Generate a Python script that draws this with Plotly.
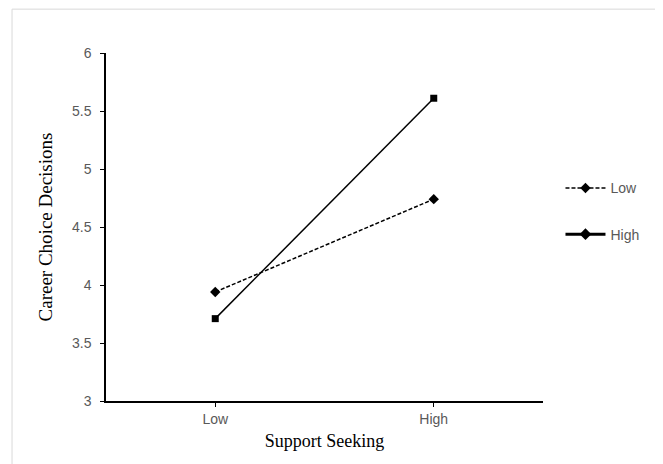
import plotly.graph_objects as go

categories = ["Low", "High"]
low_values = [3.94, 4.74]
high_values = [3.71, 5.61]
series_names = ["Low", "High"]
y_ticks = [3, 3.5, 4, 4.5, 5, 5.5, 6]

fig = go.Figure()
fig.add_trace(go.Scatter(x=categories, y=low_values, mode="lines+markers",
                         line=dict(color="black", width=1.5, dash="4px,2px"),
                         marker=dict(symbol="diamond", size=8, color="black"),
                         showlegend=False))
fig.add_trace(go.Scatter(x=categories, y=high_values, mode="lines+markers",
                         line=dict(color="black", width=1.5),
                         marker=dict(symbol="square", size=7, color="black"),
                         showlegend=False))
# legend-only entries (Excel-style diamond markers)
fig.add_trace(go.Scatter(x=[None], y=[None], mode="lines+markers", name=series_names[0],
                         legendgroup="a",
                         line=dict(color="black", width=1.5, dash="4px,2px"),
                         marker=dict(symbol="diamond", size=8, color="black")))
fig.add_trace(go.Scatter(x=[None], y=[None], mode="lines+markers", name=series_names[1],
                         legendgroup="b",
                         line=dict(color="black", width=3),
                         marker=dict(symbol="diamond", size=9, color="black")))

fig.update_layout(
    width=663, height=464,
    margin=dict(l=98, r=128, t=45, b=71),
    paper_bgcolor="white", plot_bgcolor="white",
    showlegend=True,
    legend=dict(x=1.04, y=0.657, xanchor="left", yanchor="top",
                font=dict(family="Liberation Sans, Arial", size=14, color="#595959"),
                tracegroupgap=25, itemwidth=40, bgcolor="rgba(0,0,0,0)"),
    xaxis=dict(type="category", range=[-0.5, 1.5], showline=True, linecolor="black",
               linewidth=1.5, ticks="outside", ticklen=4, tickcolor="black",
               showgrid=False, zeroline=False,
               tickfont=dict(family="Liberation Sans, Arial", size=14, color="#595959"),
               title=dict(text="Support Seeking", standoff=9,
                          font=dict(family="Liberation Serif, Times New Roman", size=18, color="black"))),
    yaxis=dict(range=[3, 6], tickvals=y_ticks, ticktext=[f"{v:g}" for v in y_ticks],
               showline=True, linecolor="black", linewidth=1.5, ticks="outside", ticklen=4,
               tickcolor="black", showgrid=False, zeroline=False, ticklabelstandoff=6,
               tickfont=dict(family="Liberation Sans, Arial", size=14, color="#595959"),
               title=dict(text="Career Choice Decisions", standoff=14,
                          font=dict(family="Liberation Serif, Times New Roman", size=19, color="black"))),
    shapes=[dict(type="rect", xref="paper", yref="paper", x0=-0.215, x1=1.3, y0=-0.3, y1=1.126,
                 line=dict(color="#d9d9d9", width=1), fillcolor="rgba(0,0,0,0)", layer="below")],
)

fig.write_html("out.html")
